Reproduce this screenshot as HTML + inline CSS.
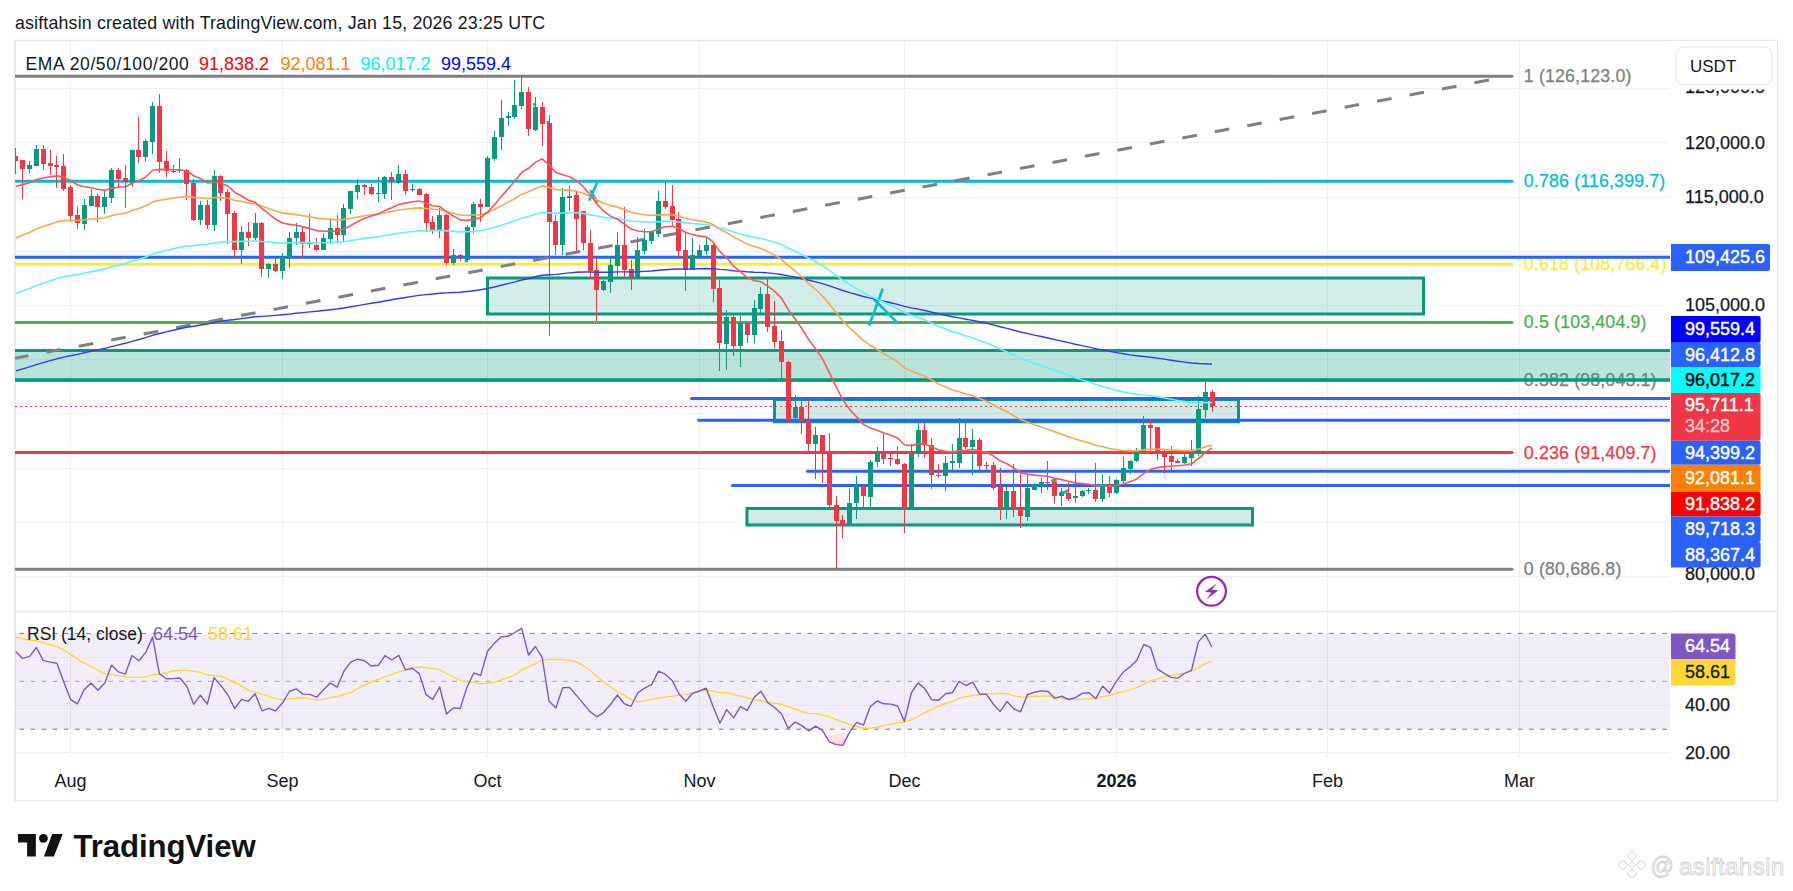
<!DOCTYPE html><html><head><meta charset="utf-8"><style>
html,body{margin:0;padding:0;background:#fff;width:1793px;height:891px;overflow:hidden}
svg{position:absolute;left:0;top:0}
text{font-family:"Liberation Sans",sans-serif}
</style></head><body>
<svg width="1793" height="891" viewBox="0 0 1793 891">
<defs><clipPath id="pclip"><rect x="15" y="41" width="1655" height="570"/></clipPath><clipPath id="rclip"><rect x="15" y="612" width="1655" height="146"/></clipPath></defs>
<text x="15" y="29" font-size="17.8" letter-spacing="0.17" fill="#131722">asiftahsin created with TradingView.com, Jan 15, 2026 23:25 UTC</text>
<rect x="15" y="40.5" width="1762.5" height="760.3" fill="#fff" stroke="#e6e6e6" stroke-width="1.5"/>
<line x1="70.5" y1="41" x2="70.5" y2="758" stroke="#efefef" stroke-width="1"/>
<line x1="282.5" y1="41" x2="282.5" y2="758" stroke="#efefef" stroke-width="1"/>
<line x1="487.5" y1="41" x2="487.5" y2="758" stroke="#efefef" stroke-width="1"/>
<line x1="699.5" y1="41" x2="699.5" y2="758" stroke="#efefef" stroke-width="1"/>
<line x1="904.5" y1="41" x2="904.5" y2="758" stroke="#efefef" stroke-width="1"/>
<line x1="1116.5" y1="41" x2="1116.5" y2="758" stroke="#efefef" stroke-width="1"/>
<line x1="1327.5" y1="41" x2="1327.5" y2="758" stroke="#efefef" stroke-width="1"/>
<line x1="1519.5" y1="41" x2="1519.5" y2="758" stroke="#efefef" stroke-width="1"/>
<line x1="15" y1="88.5" x2="1670" y2="88.5" stroke="#efefef" stroke-width="1"/>
<line x1="15" y1="142.5" x2="1670" y2="142.5" stroke="#efefef" stroke-width="1"/>
<line x1="15" y1="197.5" x2="1670" y2="197.5" stroke="#efefef" stroke-width="1"/>
<line x1="15" y1="251.5" x2="1670" y2="251.5" stroke="#efefef" stroke-width="1"/>
<line x1="15" y1="305.5" x2="1670" y2="305.5" stroke="#efefef" stroke-width="1"/>
<line x1="15" y1="359.5" x2="1670" y2="359.5" stroke="#efefef" stroke-width="1"/>
<line x1="15" y1="413.5" x2="1670" y2="413.5" stroke="#efefef" stroke-width="1"/>
<line x1="15" y1="468.5" x2="1670" y2="468.5" stroke="#efefef" stroke-width="1"/>
<line x1="15" y1="522.5" x2="1670" y2="522.5" stroke="#efefef" stroke-width="1"/>
<line x1="15" y1="576.5" x2="1670" y2="576.5" stroke="#efefef" stroke-width="1"/>
<line x1="15" y1="611.5" x2="1778" y2="611.5" stroke="#e6e6e6" stroke-width="1.5"/>
<g clip-path="url(#pclip)">
<line x1="10" y1="76.3" x2="1512" y2="76.3" stroke="#808080" stroke-width="3" stroke-linecap="round"/>
<line x1="10" y1="181.2" x2="1512" y2="181.2" stroke="#00bcd4" stroke-width="3" stroke-linecap="round"/>
<line x1="10" y1="264.2" x2="1512" y2="264.2" stroke="#ffeb3b" stroke-width="3" stroke-linecap="round"/>
<line x1="10" y1="322.4" x2="1512" y2="322.4" stroke="#4caf50" stroke-width="3" stroke-linecap="round"/>
<line x1="10" y1="380.3" x2="1512" y2="380.3" stroke="#808080" stroke-width="3" stroke-linecap="round"/>
<line x1="10" y1="452.5" x2="1512" y2="452.5" stroke="#f23645" stroke-width="3" stroke-linecap="round"/>
<line x1="10" y1="569.2" x2="1512" y2="569.2" stroke="#808080" stroke-width="3" stroke-linecap="round"/>
<text x="1523.8" y="82.3" font-size="17.8" letter-spacing="0.15" fill="#808080" stroke="#808080" stroke-width="0.25">1 (126,123.0)</text>
<text x="1523.8" y="187.2" font-size="17.8" letter-spacing="0.15" fill="#00bcd4" stroke="#00bcd4" stroke-width="0.25">0.786 (116,399.7)</text>
<text x="1523.8" y="270.2" font-size="17.8" letter-spacing="0.15" fill="#ffeb3b" stroke="#ffeb3b" stroke-width="0.25">0.618 (108,766.4)</text>
<text x="1523.8" y="328.4" font-size="17.8" letter-spacing="0.15" fill="#4caf50" stroke="#4caf50" stroke-width="0.25">0.5 (103,404.9)</text>
<text x="1523.8" y="386.3" font-size="17.8" letter-spacing="0.15" fill="#808080" stroke="#808080" stroke-width="0.25">0.382 (98,043.1)</text>
<text x="1523.8" y="458.5" font-size="17.8" letter-spacing="0.15" fill="#f23645" stroke="#f23645" stroke-width="0.25">0.236 (91,409.7)</text>
<text x="1523.8" y="575.2" font-size="17.8" letter-spacing="0.15" fill="#808080" stroke="#808080" stroke-width="0.25">0 (80,686.8)</text>
<rect x="10" y="350.5" width="1665" height="29.5" fill="#089981" fill-opacity="0.28" stroke="#089981" stroke-width="3"/>
<rect x="487.5" y="278" width="936" height="36" fill="#089981" fill-opacity="0.175" stroke="#089981" stroke-width="3"/>
<rect x="774.5" y="399.5" width="464" height="22.3" fill="#089981" fill-opacity="0.19" stroke="#089981" stroke-width="3"/>
<rect x="747" y="508.5" width="505.5" height="16.5" fill="#089981" fill-opacity="0.19" stroke="#089981" stroke-width="3"/>
<line x1="10" y1="350.5" x2="1675" y2="350.5" stroke="#089981" stroke-width="3"/>
<line x1="10" y1="380" x2="1675" y2="380" stroke="#089981" stroke-width="3"/>
<line x1="10" y1="257.3" x2="1680" y2="257.3" stroke="#2962ff" stroke-width="3" stroke-linecap="round"/>
<line x1="691.5" y1="398.4" x2="1680" y2="398.4" stroke="#2962ff" stroke-width="3" stroke-linecap="round"/>
<line x1="698.5" y1="420.3" x2="1680" y2="420.3" stroke="#2962ff" stroke-width="3" stroke-linecap="round"/>
<line x1="807.5" y1="471.3" x2="1680" y2="471.3" stroke="#2962ff" stroke-width="3" stroke-linecap="round"/>
<line x1="732.5" y1="485.6" x2="1680" y2="485.6" stroke="#2962ff" stroke-width="3" stroke-linecap="round"/>
<line x1="15" y1="406.5" x2="1670" y2="406.5" stroke="#f23645" stroke-width="1" stroke-dasharray="2,3"/>
<line x1="13.85" y1="358.4" x2="1500" y2="78.0" stroke="#808080" stroke-width="3" stroke-dasharray="14.77,18.26"/>
<g stroke="#00bcd4" stroke-width="2.6" stroke-linecap="round" fill="none"><line x1="882.4" y1="289.7" x2="869.5" y2="324.6"/><line x1="874.6" y1="299.9" x2="897" y2="322.3"/><line x1="596.7" y1="183.5" x2="589.6" y2="199.7"/><line x1="590.8" y1="191" x2="597" y2="202"/><path d="M1052.5,480.8 L1055.5,480.3" stroke-width="3"/><path d="M1060.5,493 L1064,492.5 L1067.5,490.8" stroke-width="3"/></g>
<g fill="#00bcd4"><circle cx="534.6" cy="104.5" r="1.8"/><circle cx="548.2" cy="122.3" r="1.8"/><circle cx="466.2" cy="260.8" r="1.8"/></g>
</g>
<g clip-path="url(#pclip)" shape-rendering="crispEdges">
<rect x="15" y="147.9" width="1" height="25.6" fill="#f23645"/>
<rect x="13" y="156.2" width="5" height="4.5" fill="#f23645"/>
<rect x="22" y="159.6" width="1" height="39.3" fill="#f23645"/>
<rect x="20" y="160.0" width="5" height="8.5" fill="#f23645"/>
<rect x="29" y="161.4" width="1" height="11.2" fill="#089981"/>
<rect x="27" y="165.2" width="5" height="3.4" fill="#089981"/>
<rect x="36" y="145.0" width="1" height="20.7" fill="#089981"/>
<rect x="34" y="149.0" width="5" height="16.6" fill="#089981"/>
<rect x="43" y="145.0" width="1" height="24.7" fill="#f23645"/>
<rect x="41" y="149.0" width="5" height="14.6" fill="#f23645"/>
<rect x="50" y="150.2" width="1" height="24.7" fill="#f23645"/>
<rect x="48" y="163.0" width="5" height="2.7" fill="#f23645"/>
<rect x="56" y="156.2" width="1" height="31.4" fill="#f23645"/>
<rect x="54" y="164.7" width="5" height="2.0" fill="#f23645"/>
<rect x="63" y="154.0" width="1" height="36.6" fill="#f23645"/>
<rect x="61" y="165.9" width="5" height="22.9" fill="#f23645"/>
<rect x="70" y="185.4" width="1" height="34.8" fill="#f23645"/>
<rect x="68" y="187.0" width="5" height="28.7" fill="#f23645"/>
<rect x="77" y="207.2" width="1" height="21.5" fill="#f23645"/>
<rect x="75" y="215.3" width="5" height="7.6" fill="#f23645"/>
<rect x="84" y="199.3" width="1" height="30.3" fill="#089981"/>
<rect x="82" y="205.2" width="5" height="18.9" fill="#089981"/>
<rect x="91" y="189.2" width="1" height="16.4" fill="#089981"/>
<rect x="89" y="195.9" width="5" height="9.7" fill="#089981"/>
<rect x="97" y="194.4" width="1" height="27.4" fill="#f23645"/>
<rect x="95" y="195.9" width="5" height="10.8" fill="#f23645"/>
<rect x="104" y="189.9" width="1" height="23.6" fill="#089981"/>
<rect x="102" y="197.1" width="5" height="9.7" fill="#089981"/>
<rect x="111" y="168.1" width="1" height="35.2" fill="#089981"/>
<rect x="109" y="169.7" width="5" height="28.1" fill="#089981"/>
<rect x="118" y="168.1" width="1" height="18.4" fill="#f23645"/>
<rect x="116" y="169.7" width="5" height="9.0" fill="#f23645"/>
<rect x="125" y="165.2" width="1" height="43.1" fill="#f23645"/>
<rect x="123" y="178.2" width="5" height="3.4" fill="#f23645"/>
<rect x="132" y="150.2" width="1" height="36.8" fill="#089981"/>
<rect x="130" y="150.2" width="5" height="32.3" fill="#089981"/>
<rect x="138" y="116.9" width="1" height="46.0" fill="#f23645"/>
<rect x="136" y="150.2" width="5" height="6.5" fill="#f23645"/>
<rect x="145" y="138.9" width="1" height="22.9" fill="#089981"/>
<rect x="143" y="141.2" width="5" height="15.5" fill="#089981"/>
<rect x="152" y="101.7" width="1" height="52.3" fill="#089981"/>
<rect x="150" y="106.2" width="5" height="35.5" fill="#089981"/>
<rect x="159" y="94.0" width="1" height="78.6" fill="#f23645"/>
<rect x="157" y="106.2" width="5" height="55.7" fill="#f23645"/>
<rect x="166" y="151.1" width="1" height="25.4" fill="#f23645"/>
<rect x="164" y="161.4" width="5" height="9.9" fill="#f23645"/>
<rect x="173" y="165.2" width="1" height="7.9" fill="#089981"/>
<rect x="171" y="170.8" width="5" height="1.1" fill="#089981"/>
<rect x="179" y="158.0" width="1" height="14.6" fill="#089981"/>
<rect x="177" y="169.7" width="5" height="1.1" fill="#089981"/>
<rect x="186" y="168.6" width="1" height="31.4" fill="#f23645"/>
<rect x="184" y="169.7" width="5" height="13.9" fill="#f23645"/>
<rect x="193" y="178.7" width="1" height="42.0" fill="#f23645"/>
<rect x="191" y="183.2" width="5" height="36.6" fill="#f23645"/>
<rect x="200" y="201.1" width="1" height="23.6" fill="#089981"/>
<rect x="198" y="205.2" width="5" height="14.6" fill="#089981"/>
<rect x="207" y="200.0" width="1" height="28.7" fill="#f23645"/>
<rect x="205" y="205.2" width="5" height="19.5" fill="#f23645"/>
<rect x="214" y="170.2" width="1" height="61.1" fill="#089981"/>
<rect x="212" y="176.2" width="5" height="48.7" fill="#089981"/>
<rect x="220" y="175.1" width="1" height="25.8" fill="#f23645"/>
<rect x="218" y="176.2" width="5" height="16.4" fill="#f23645"/>
<rect x="227" y="189.0" width="1" height="54.5" fill="#f23645"/>
<rect x="225" y="191.9" width="5" height="21.8" fill="#f23645"/>
<rect x="234" y="211.0" width="1" height="47.1" fill="#f23645"/>
<rect x="232" y="212.8" width="5" height="36.8" fill="#f23645"/>
<rect x="241" y="225.6" width="1" height="38.8" fill="#089981"/>
<rect x="239" y="232.3" width="5" height="17.3" fill="#089981"/>
<rect x="248" y="222.2" width="1" height="24.2" fill="#f23645"/>
<rect x="246" y="232.3" width="5" height="5.2" fill="#f23645"/>
<rect x="255" y="213.3" width="1" height="26.9" fill="#089981"/>
<rect x="253" y="223.4" width="5" height="14.1" fill="#089981"/>
<rect x="261" y="222.2" width="1" height="55.0" fill="#f23645"/>
<rect x="259" y="223.4" width="5" height="45.6" fill="#f23645"/>
<rect x="268" y="263.3" width="1" height="15.0" fill="#089981"/>
<rect x="266" y="264.4" width="5" height="4.5" fill="#089981"/>
<rect x="275" y="257.0" width="1" height="14.6" fill="#f23645"/>
<rect x="273" y="264.4" width="5" height="6.7" fill="#f23645"/>
<rect x="282" y="252.5" width="1" height="26.9" fill="#089981"/>
<rect x="280" y="258.1" width="5" height="13.0" fill="#089981"/>
<rect x="289" y="232.3" width="1" height="35.2" fill="#089981"/>
<rect x="287" y="237.5" width="5" height="21.8" fill="#089981"/>
<rect x="296" y="223.4" width="1" height="21.3" fill="#089981"/>
<rect x="294" y="232.3" width="5" height="5.2" fill="#089981"/>
<rect x="302" y="226.7" width="1" height="31.4" fill="#f23645"/>
<rect x="300" y="232.3" width="5" height="11.2" fill="#f23645"/>
<rect x="309" y="214.4" width="1" height="33.7" fill="#f23645"/>
<rect x="307" y="242.9" width="5" height="1.3" fill="#f23645"/>
<rect x="316" y="237.5" width="1" height="13.5" fill="#f23645"/>
<rect x="314" y="244.7" width="5" height="4.9" fill="#f23645"/>
<rect x="323" y="233.0" width="1" height="16.6" fill="#089981"/>
<rect x="321" y="238.4" width="5" height="11.2" fill="#089981"/>
<rect x="330" y="219.5" width="1" height="24.0" fill="#089981"/>
<rect x="328" y="227.8" width="5" height="11.2" fill="#089981"/>
<rect x="337" y="215.1" width="1" height="26.9" fill="#f23645"/>
<rect x="335" y="227.8" width="5" height="6.7" fill="#f23645"/>
<rect x="343" y="204.3" width="1" height="36.4" fill="#089981"/>
<rect x="341" y="208.1" width="5" height="26.5" fill="#089981"/>
<rect x="350" y="190.8" width="1" height="22.9" fill="#089981"/>
<rect x="348" y="191.3" width="5" height="17.5" fill="#089981"/>
<rect x="357" y="179.1" width="1" height="19.5" fill="#089981"/>
<rect x="355" y="185.2" width="5" height="6.7" fill="#089981"/>
<rect x="364" y="183.6" width="1" height="11.2" fill="#f23645"/>
<rect x="362" y="185.2" width="5" height="2.2" fill="#f23645"/>
<rect x="371" y="184.1" width="1" height="10.8" fill="#f23645"/>
<rect x="369" y="187.4" width="5" height="6.7" fill="#f23645"/>
<rect x="378" y="177.3" width="1" height="25.1" fill="#089981"/>
<rect x="376" y="193.1" width="5" height="1.0" fill="#089981"/>
<rect x="384" y="175.5" width="1" height="23.1" fill="#089981"/>
<rect x="382" y="176.9" width="5" height="16.6" fill="#089981"/>
<rect x="391" y="171.7" width="1" height="28.1" fill="#f23645"/>
<rect x="389" y="176.9" width="5" height="4.9" fill="#f23645"/>
<rect x="398" y="165.0" width="1" height="19.1" fill="#089981"/>
<rect x="396" y="174.0" width="5" height="9.0" fill="#089981"/>
<rect x="405" y="169.9" width="1" height="24.7" fill="#f23645"/>
<rect x="403" y="173.7" width="5" height="17.1" fill="#f23645"/>
<rect x="412" y="184.0" width="1" height="8.3" fill="#089981"/>
<rect x="410" y="188.5" width="5" height="1.0" fill="#089981"/>
<rect x="419" y="187.8" width="1" height="6.7" fill="#f23645"/>
<rect x="417" y="189.0" width="5" height="5.6" fill="#f23645"/>
<rect x="426" y="193.0" width="1" height="39.1" fill="#f23645"/>
<rect x="424" y="193.5" width="5" height="29.2" fill="#f23645"/>
<rect x="432" y="215.5" width="1" height="18.9" fill="#f23645"/>
<rect x="430" y="222.2" width="5" height="7.6" fill="#f23645"/>
<rect x="439" y="208.0" width="1" height="30.3" fill="#089981"/>
<rect x="437" y="214.8" width="5" height="15.0" fill="#089981"/>
<rect x="446" y="213.7" width="1" height="51.6" fill="#f23645"/>
<rect x="444" y="214.8" width="5" height="48.3" fill="#f23645"/>
<rect x="453" y="248.5" width="1" height="16.8" fill="#089981"/>
<rect x="451" y="255.2" width="5" height="7.9" fill="#089981"/>
<rect x="460" y="253.6" width="1" height="7.2" fill="#f23645"/>
<rect x="458" y="255.2" width="5" height="1.1" fill="#f23645"/>
<rect x="467" y="224.9" width="1" height="37.0" fill="#089981"/>
<rect x="465" y="227.1" width="5" height="33.2" fill="#089981"/>
<rect x="473" y="202.4" width="1" height="31.0" fill="#089981"/>
<rect x="471" y="203.6" width="5" height="23.6" fill="#089981"/>
<rect x="480" y="199.1" width="1" height="22.4" fill="#f23645"/>
<rect x="478" y="204.2" width="5" height="3.1" fill="#f23645"/>
<rect x="487" y="156.4" width="1" height="51.0" fill="#089981"/>
<rect x="485" y="157.5" width="5" height="49.8" fill="#089981"/>
<rect x="494" y="130.6" width="1" height="30.3" fill="#089981"/>
<rect x="492" y="136.9" width="5" height="21.8" fill="#089981"/>
<rect x="501" y="99.6" width="1" height="50.1" fill="#089981"/>
<rect x="499" y="117.6" width="5" height="19.8" fill="#089981"/>
<rect x="508" y="112.2" width="1" height="13.5" fill="#089981"/>
<rect x="506" y="116.0" width="5" height="2.2" fill="#089981"/>
<rect x="514" y="80.1" width="1" height="38.8" fill="#089981"/>
<rect x="512" y="104.8" width="5" height="11.9" fill="#089981"/>
<rect x="521" y="74.9" width="1" height="33.7" fill="#089981"/>
<rect x="519" y="92.0" width="5" height="13.5" fill="#089981"/>
<rect x="528" y="86.8" width="1" height="48.7" fill="#f23645"/>
<rect x="526" y="92.0" width="5" height="36.8" fill="#f23645"/>
<rect x="535" y="96.9" width="1" height="33.7" fill="#089981"/>
<rect x="533" y="106.6" width="5" height="22.9" fill="#089981"/>
<rect x="542" y="101.9" width="1" height="44.0" fill="#f23645"/>
<rect x="540" y="106.6" width="5" height="17.7" fill="#f23645"/>
<rect x="549" y="114.9" width="1" height="221.0" fill="#f23645"/>
<rect x="547" y="123.4" width="5" height="98.8" fill="#f23645"/>
<rect x="555" y="214.8" width="1" height="39.7" fill="#f23645"/>
<rect x="553" y="220.8" width="5" height="23.8" fill="#f23645"/>
<rect x="562" y="187.8" width="1" height="66.7" fill="#089981"/>
<rect x="560" y="196.8" width="5" height="47.8" fill="#089981"/>
<rect x="569" y="186.3" width="1" height="24.7" fill="#089981"/>
<rect x="567" y="195.7" width="5" height="2.2" fill="#089981"/>
<rect x="576" y="191.7" width="1" height="59.7" fill="#f23645"/>
<rect x="574" y="195.3" width="5" height="23.3" fill="#f23645"/>
<rect x="583" y="211.0" width="1" height="38.6" fill="#f23645"/>
<rect x="581" y="211.4" width="5" height="31.9" fill="#f23645"/>
<rect x="590" y="229.6" width="1" height="49.4" fill="#f23645"/>
<rect x="588" y="243.1" width="5" height="28.1" fill="#f23645"/>
<rect x="596" y="258.8" width="1" height="62.4" fill="#f23645"/>
<rect x="594" y="270.0" width="5" height="19.8" fill="#f23645"/>
<rect x="603" y="280.1" width="1" height="11.2" fill="#089981"/>
<rect x="601" y="280.8" width="5" height="9.4" fill="#089981"/>
<rect x="610" y="257.6" width="1" height="35.2" fill="#089981"/>
<rect x="608" y="265.1" width="5" height="16.6" fill="#089981"/>
<rect x="617" y="232.3" width="1" height="43.3" fill="#089981"/>
<rect x="615" y="244.8" width="5" height="21.1" fill="#089981"/>
<rect x="624" y="207.1" width="1" height="70.7" fill="#f23645"/>
<rect x="622" y="244.8" width="5" height="25.1" fill="#f23645"/>
<rect x="631" y="259.9" width="1" height="29.9" fill="#f23645"/>
<rect x="629" y="268.9" width="5" height="9.0" fill="#f23645"/>
<rect x="637" y="237.4" width="1" height="39.7" fill="#089981"/>
<rect x="635" y="249.8" width="5" height="27.4" fill="#089981"/>
<rect x="644" y="228.5" width="1" height="25.4" fill="#089981"/>
<rect x="642" y="239.7" width="5" height="11.2" fill="#089981"/>
<rect x="651" y="230.7" width="1" height="13.5" fill="#089981"/>
<rect x="649" y="232.3" width="5" height="8.5" fill="#089981"/>
<rect x="658" y="191.0" width="1" height="45.8" fill="#089981"/>
<rect x="656" y="200.9" width="5" height="33.2" fill="#089981"/>
<rect x="665" y="181.3" width="1" height="27.6" fill="#f23645"/>
<rect x="663" y="200.9" width="5" height="6.3" fill="#f23645"/>
<rect x="672" y="185.1" width="1" height="41.8" fill="#f23645"/>
<rect x="670" y="206.0" width="5" height="14.1" fill="#f23645"/>
<rect x="678" y="211.6" width="1" height="47.1" fill="#f23645"/>
<rect x="676" y="218.8" width="5" height="32.1" fill="#f23645"/>
<rect x="685" y="233.0" width="1" height="57.7" fill="#f23645"/>
<rect x="683" y="249.8" width="5" height="20.2" fill="#f23645"/>
<rect x="692" y="238.1" width="1" height="31.9" fill="#089981"/>
<rect x="690" y="254.7" width="5" height="15.3" fill="#089981"/>
<rect x="699" y="244.8" width="1" height="12.1" fill="#089981"/>
<rect x="697" y="250.2" width="5" height="5.8" fill="#089981"/>
<rect x="706" y="237.4" width="1" height="18.0" fill="#089981"/>
<rect x="704" y="244.8" width="5" height="6.1" fill="#089981"/>
<rect x="713" y="243.1" width="1" height="58.8" fill="#f23645"/>
<rect x="711" y="244.8" width="5" height="44.2" fill="#f23645"/>
<rect x="719" y="280.1" width="1" height="90.8" fill="#f23645"/>
<rect x="717" y="287.9" width="5" height="55.5" fill="#f23645"/>
<rect x="726" y="309.9" width="1" height="59.9" fill="#089981"/>
<rect x="724" y="317.0" width="5" height="26.7" fill="#089981"/>
<rect x="733" y="314.4" width="1" height="41.3" fill="#f23645"/>
<rect x="731" y="317.0" width="5" height="28.8" fill="#f23645"/>
<rect x="740" y="315.9" width="1" height="51.1" fill="#089981"/>
<rect x="738" y="323.0" width="5" height="22.8" fill="#089981"/>
<rect x="747" y="321.6" width="1" height="21.0" fill="#f23645"/>
<rect x="745" y="323.0" width="5" height="11.8" fill="#f23645"/>
<rect x="754" y="300.2" width="1" height="43.2" fill="#089981"/>
<rect x="752" y="308.1" width="5" height="26.7" fill="#089981"/>
<rect x="760" y="286.8" width="1" height="25.8" fill="#089981"/>
<rect x="758" y="294.2" width="5" height="14.4" fill="#089981"/>
<rect x="767" y="277.8" width="1" height="53.9" fill="#f23645"/>
<rect x="765" y="294.2" width="5" height="32.3" fill="#f23645"/>
<rect x="774" y="301.0" width="1" height="47.1" fill="#f23645"/>
<rect x="772" y="326.1" width="5" height="15.7" fill="#f23645"/>
<rect x="781" y="330.0" width="1" height="50.5" fill="#f23645"/>
<rect x="779" y="341.2" width="5" height="21.0" fill="#f23645"/>
<rect x="788" y="360.9" width="1" height="61.7" fill="#f23645"/>
<rect x="786" y="362.3" width="5" height="57.5" fill="#f23645"/>
<rect x="795" y="394.5" width="1" height="25.2" fill="#089981"/>
<rect x="793" y="407.1" width="5" height="11.2" fill="#089981"/>
<rect x="801" y="396.8" width="1" height="37.6" fill="#f23645"/>
<rect x="799" y="407.1" width="5" height="14.0" fill="#f23645"/>
<rect x="808" y="400.1" width="1" height="50.5" fill="#f23645"/>
<rect x="806" y="421.2" width="5" height="22.4" fill="#f23645"/>
<rect x="815" y="426.8" width="1" height="51.9" fill="#089981"/>
<rect x="813" y="435.2" width="5" height="8.4" fill="#089981"/>
<rect x="822" y="435.2" width="1" height="47.7" fill="#f23645"/>
<rect x="820" y="435.2" width="5" height="16.8" fill="#f23645"/>
<rect x="829" y="433.2" width="1" height="74.9" fill="#f23645"/>
<rect x="827" y="452.0" width="5" height="53.3" fill="#f23645"/>
<rect x="836" y="495.5" width="1" height="72.9" fill="#f23645"/>
<rect x="834" y="504.5" width="5" height="16.3" fill="#f23645"/>
<rect x="842" y="515.1" width="1" height="22.4" fill="#f23645"/>
<rect x="840" y="520.2" width="5" height="4.8" fill="#f23645"/>
<rect x="849" y="488.5" width="1" height="35.1" fill="#089981"/>
<rect x="847" y="502.5" width="5" height="21.0" fill="#089981"/>
<rect x="856" y="475.9" width="1" height="42.6" fill="#089981"/>
<rect x="854" y="485.7" width="5" height="16.8" fill="#089981"/>
<rect x="863" y="483.7" width="1" height="25.8" fill="#f23645"/>
<rect x="861" y="485.7" width="5" height="10.7" fill="#f23645"/>
<rect x="870" y="460.4" width="1" height="46.3" fill="#089981"/>
<rect x="868" y="461.8" width="5" height="35.1" fill="#089981"/>
<rect x="877" y="447.3" width="1" height="19.6" fill="#089981"/>
<rect x="875" y="450.6" width="5" height="11.2" fill="#089981"/>
<rect x="883" y="433.8" width="1" height="30.3" fill="#f23645"/>
<rect x="881" y="450.6" width="5" height="7.9" fill="#f23645"/>
<rect x="890" y="453.4" width="1" height="12.6" fill="#f23645"/>
<rect x="888" y="457.6" width="5" height="1.4" fill="#f23645"/>
<rect x="897" y="446.4" width="1" height="18.2" fill="#f23645"/>
<rect x="895" y="459.0" width="5" height="5.0" fill="#f23645"/>
<rect x="904" y="463.2" width="1" height="70.1" fill="#f23645"/>
<rect x="902" y="464.1" width="5" height="44.0" fill="#f23645"/>
<rect x="911" y="443.6" width="1" height="64.5" fill="#089981"/>
<rect x="909" y="453.4" width="5" height="54.7" fill="#089981"/>
<rect x="918" y="422.6" width="1" height="34.2" fill="#089981"/>
<rect x="916" y="429.6" width="5" height="23.8" fill="#089981"/>
<rect x="924" y="422.6" width="1" height="35.1" fill="#f23645"/>
<rect x="922" y="429.6" width="5" height="15.4" fill="#f23645"/>
<rect x="931" y="438.0" width="1" height="50.5" fill="#f23645"/>
<rect x="929" y="445.0" width="5" height="30.3" fill="#f23645"/>
<rect x="938" y="464.1" width="1" height="14.0" fill="#f23645"/>
<rect x="936" y="475.3" width="5" height="1.1" fill="#f23645"/>
<rect x="945" y="455.7" width="1" height="35.6" fill="#089981"/>
<rect x="943" y="463.2" width="5" height="12.6" fill="#089981"/>
<rect x="952" y="443.6" width="1" height="26.6" fill="#089981"/>
<rect x="950" y="461.3" width="5" height="1.7" fill="#089981"/>
<rect x="959" y="418.4" width="1" height="49.1" fill="#089981"/>
<rect x="957" y="438.0" width="5" height="25.2" fill="#089981"/>
<rect x="965" y="419.3" width="1" height="29.2" fill="#f23645"/>
<rect x="963" y="437.9" width="5" height="9.0" fill="#f23645"/>
<rect x="972" y="428.9" width="1" height="46.5" fill="#089981"/>
<rect x="970" y="440.2" width="5" height="6.7" fill="#089981"/>
<rect x="979" y="438.4" width="1" height="34.1" fill="#f23645"/>
<rect x="977" y="440.2" width="5" height="25.6" fill="#f23645"/>
<rect x="986" y="461.9" width="1" height="7.9" fill="#f23645"/>
<rect x="984" y="465.3" width="5" height="1.0" fill="#f23645"/>
<rect x="993" y="461.9" width="1" height="28.1" fill="#f23645"/>
<rect x="991" y="464.8" width="5" height="23.3" fill="#f23645"/>
<rect x="1000" y="467.5" width="1" height="52.1" fill="#f23645"/>
<rect x="998" y="487.3" width="5" height="20.2" fill="#f23645"/>
<rect x="1006" y="487.3" width="1" height="31.4" fill="#089981"/>
<rect x="1004" y="491.1" width="5" height="16.4" fill="#089981"/>
<rect x="1013" y="464.2" width="1" height="52.7" fill="#f23645"/>
<rect x="1011" y="491.1" width="5" height="18.0" fill="#f23645"/>
<rect x="1020" y="470.9" width="1" height="56.8" fill="#f23645"/>
<rect x="1018" y="507.9" width="5" height="8.5" fill="#f23645"/>
<rect x="1027" y="474.3" width="1" height="46.7" fill="#089981"/>
<rect x="1025" y="488.2" width="5" height="28.3" fill="#089981"/>
<rect x="1034" y="482.8" width="1" height="7.6" fill="#089981"/>
<rect x="1032" y="484.4" width="5" height="5.2" fill="#089981"/>
<rect x="1041" y="478.3" width="1" height="15.0" fill="#089981"/>
<rect x="1039" y="482.1" width="5" height="3.4" fill="#089981"/>
<rect x="1047" y="461.3" width="1" height="28.7" fill="#f23645"/>
<rect x="1045" y="482.1" width="5" height="1.1" fill="#f23645"/>
<rect x="1054" y="478.8" width="1" height="24.7" fill="#f23645"/>
<rect x="1052" y="482.1" width="5" height="13.5" fill="#f23645"/>
<rect x="1061" y="488.2" width="1" height="17.5" fill="#089981"/>
<rect x="1059" y="492.7" width="5" height="2.9" fill="#089981"/>
<rect x="1068" y="483.3" width="1" height="17.5" fill="#f23645"/>
<rect x="1066" y="493.4" width="5" height="5.2" fill="#f23645"/>
<rect x="1075" y="472.0" width="1" height="31.4" fill="#089981"/>
<rect x="1073" y="496.3" width="5" height="1.6" fill="#089981"/>
<rect x="1082" y="489.5" width="1" height="7.6" fill="#089981"/>
<rect x="1080" y="491.1" width="5" height="5.2" fill="#089981"/>
<rect x="1088" y="487.7" width="1" height="6.7" fill="#089981"/>
<rect x="1086" y="490.4" width="5" height="1.0" fill="#089981"/>
<rect x="1095" y="463.1" width="1" height="38.6" fill="#f23645"/>
<rect x="1093" y="490.0" width="5" height="8.5" fill="#f23645"/>
<rect x="1102" y="474.3" width="1" height="27.4" fill="#089981"/>
<rect x="1100" y="484.4" width="5" height="14.1" fill="#089981"/>
<rect x="1109" y="476.1" width="1" height="20.7" fill="#f23645"/>
<rect x="1107" y="484.4" width="5" height="9.0" fill="#f23645"/>
<rect x="1116" y="478.8" width="1" height="15.3" fill="#089981"/>
<rect x="1114" y="479.9" width="5" height="13.5" fill="#089981"/>
<rect x="1123" y="457.4" width="1" height="26.3" fill="#089981"/>
<rect x="1121" y="468.0" width="5" height="13.0" fill="#089981"/>
<rect x="1130" y="459.7" width="1" height="14.6" fill="#089981"/>
<rect x="1128" y="460.8" width="5" height="7.9" fill="#089981"/>
<rect x="1136" y="447.8" width="1" height="14.1" fill="#089981"/>
<rect x="1134" y="451.4" width="5" height="9.9" fill="#089981"/>
<rect x="1143" y="415.9" width="1" height="35.9" fill="#089981"/>
<rect x="1141" y="424.9" width="5" height="26.9" fill="#089981"/>
<rect x="1150" y="419.2" width="1" height="32.3" fill="#f23645"/>
<rect x="1148" y="424.9" width="5" height="2.7" fill="#f23645"/>
<rect x="1157" y="427.2" width="1" height="32.3" fill="#f23645"/>
<rect x="1155" y="427.2" width="5" height="24.2" fill="#f23645"/>
<rect x="1164" y="449.5" width="1" height="24.9" fill="#f23645"/>
<rect x="1162" y="451.5" width="5" height="5.4" fill="#f23645"/>
<rect x="1171" y="446.1" width="1" height="24.6" fill="#f23645"/>
<rect x="1169" y="456.2" width="5" height="5.7" fill="#f23645"/>
<rect x="1177" y="458.9" width="1" height="3.8" fill="#f23645"/>
<rect x="1175" y="461.3" width="5" height="1.3" fill="#f23645"/>
<rect x="1184" y="454.2" width="1" height="10.1" fill="#089981"/>
<rect x="1182" y="456.9" width="5" height="6.1" fill="#089981"/>
<rect x="1191" y="440.0" width="1" height="25.6" fill="#089981"/>
<rect x="1189" y="453.2" width="5" height="4.6" fill="#089981"/>
<rect x="1198" y="396.3" width="1" height="59.3" fill="#089981"/>
<rect x="1196" y="409.1" width="5" height="45.1" fill="#089981"/>
<rect x="1205" y="381.9" width="1" height="36.0" fill="#089981"/>
<rect x="1203" y="392.2" width="5" height="17.5" fill="#089981"/>
<rect x="1212" y="390.2" width="1" height="21.8" fill="#f23645"/>
<rect x="1210" y="392.2" width="5" height="13.8" fill="#f23645"/>
</g>
<g clip-path="url(#pclip)" fill="none" stroke-linejoin="round">
<polyline points="15.9,370.9 22.7,368.9 29.6,366.8 36.4,364.7 43.2,362.7 50.1,360.7 56.9,358.8 63.7,357.1 70.6,355.7 77.4,354.4 84.2,352.9 91.1,351.3 97.9,349.9 104.8,348.4 111.6,346.6 118.4,344.9 125.3,343.3 132.1,341.4 138.9,339.5 145.8,337.6 152.6,335.3 159.4,333.5 166.3,331.9 173.1,330.3 179.9,328.7 186.8,327.3 193.6,326.2 200.4,325.0 207.3,324.0 214.1,322.5 221.0,321.2 227.8,320.2 234.6,319.5 241.5,318.6 248.3,317.8 255.1,316.8 262.0,316.4 268.8,315.9 275.6,315.4 282.5,314.8 289.3,314.1 296.1,313.3 303.0,312.6 309.8,311.9 316.6,311.3 323.5,310.5 330.3,309.7 337.1,309.0 344.0,308.0 350.8,306.8 357.6,305.6 364.5,304.4 371.3,303.3 378.2,302.2 385.0,301.0 391.8,299.8 398.7,298.5 405.5,297.5 412.3,296.4 419.2,295.4 426.0,294.6 432.8,294.0 439.7,293.2 446.5,292.9 453.3,292.5 460.2,292.2 467.0,291.5 473.8,290.7 480.7,289.8 487.5,288.5 494.3,287.0 501.2,285.3 508.0,283.6 514.9,281.9 521.7,280.0 528.5,278.5 535.4,276.7 542.2,275.2 549.0,274.7 555.9,274.4 562.7,273.6 569.5,272.9 576.4,272.3 583.2,272.0 590.0,272.0 596.9,272.2 603.7,272.3 610.5,272.2 617.4,271.9 624.2,271.9 631.0,272.0 637.9,271.8 644.7,271.4 651.6,271.0 658.4,270.3 665.2,269.7 672.1,269.2 678.9,269.0 685.7,269.1 692.6,268.9 699.4,268.7 706.2,268.5 713.1,268.7 719.9,269.4 726.7,269.9 733.6,270.7 740.4,271.2 747.2,271.8 754.1,272.2 760.9,272.4 767.8,272.9 774.6,273.6 781.4,274.5 788.3,275.9 795.1,277.3 801.9,278.7 808.8,280.3 815.6,281.9 822.4,283.6 829.3,285.8 836.1,288.1 842.9,290.5 849.8,292.6 856.6,294.5 863.4,296.5 870.3,298.1 877.1,299.7 883.9,301.2 890.8,302.8 897.6,304.4 904.4,306.4 911.3,307.9 918.1,309.1 925.0,310.5 931.8,312.1 938.6,313.7 945.5,315.2 952.3,316.7 959.1,317.9 966.0,319.2 972.8,320.4 979.6,321.8 986.5,323.3 993.3,324.9 1000.1,326.7 1007.0,328.4 1013.8,330.2 1020.6,332.0 1027.5,333.6 1034.3,335.1 1041.2,336.5 1048.0,338.0 1054.8,339.6 1061.7,341.1 1068.5,342.6 1075.3,344.2 1082.2,345.6 1089.0,347.1 1095.8,348.6 1102.7,349.9 1109.5,351.4 1116.3,352.6 1123.2,353.8 1130.0,354.9 1136.8,355.8 1143.7,356.5 1150.5,357.2 1157.3,358.1 1164.2,359.1 1171.0,360.2 1177.9,361.2 1184.7,362.1 1191.5,363.0 1198.4,363.5 1205.2,363.8 1212.0,364.2" stroke="#3838ee" stroke-width="1.4"/>
<polyline points="15.9,293.3 22.7,290.9 29.6,288.4 36.4,285.6 43.2,283.2 50.1,280.9 56.9,278.6 63.7,276.8 70.6,275.6 77.4,274.6 84.2,273.2 91.1,271.7 97.9,270.4 104.8,268.9 111.6,267.0 118.4,265.2 125.3,263.6 132.1,261.3 138.9,259.2 145.8,256.9 152.6,253.9 159.4,252.1 166.3,250.5 173.1,248.9 179.9,247.3 186.8,246.1 193.6,245.6 200.4,244.8 207.3,244.4 214.1,243.0 221.0,242.0 227.8,241.5 234.6,241.6 241.5,241.4 248.3,241.4 255.1,241.0 262.0,241.6 268.8,242.0 275.6,242.6 282.5,242.9 289.3,242.8 296.1,242.6 303.0,242.6 309.8,242.6 316.6,242.8 323.5,242.7 330.3,242.4 337.1,242.2 344.0,241.6 350.8,240.6 357.6,239.5 364.5,238.4 371.3,237.6 378.2,236.7 385.0,235.5 391.8,234.4 398.7,233.2 405.5,232.4 412.3,231.5 419.2,230.8 426.0,230.6 432.8,230.6 439.7,230.3 446.5,230.9 453.3,231.4 460.2,231.9 467.0,231.8 473.8,231.3 480.7,230.8 487.5,229.3 494.3,227.5 501.2,225.3 508.0,223.2 514.9,220.8 521.7,218.3 528.5,216.5 535.4,214.3 542.2,212.5 549.0,212.7 555.9,213.4 562.7,213.0 569.5,212.7 576.4,212.8 583.2,213.4 590.0,214.6 596.9,216.0 603.7,217.3 610.5,218.3 617.4,218.8 624.2,219.8 631.0,221.0 637.9,221.5 644.7,221.9 651.6,222.1 658.4,221.7 665.2,221.4 672.1,221.4 678.9,222.0 685.7,222.9 692.6,223.5 699.4,224.1 706.2,224.5 713.1,225.8 719.9,228.1 726.7,229.8 733.6,232.1 740.4,233.9 747.2,235.9 754.1,237.4 760.9,238.5 767.8,240.2 774.6,242.2 781.4,244.6 788.3,248.1 795.1,251.2 801.9,254.6 808.8,258.3 815.6,261.8 822.4,265.6 829.3,270.4 836.1,275.3 842.9,280.3 849.8,284.7 856.6,288.6 863.4,292.8 870.3,296.1 877.1,299.2 883.9,302.3 890.8,305.4 897.6,308.6 904.4,312.5 911.3,315.3 918.1,317.6 925.0,320.1 931.8,323.2 938.6,326.2 945.5,328.9 952.3,331.5 959.1,333.6 966.0,335.9 972.8,338.0 979.6,340.5 986.5,343.0 993.3,345.8 1000.1,349.0 1007.0,351.9 1013.8,355.0 1020.6,358.2 1027.5,360.7 1034.3,363.2 1041.2,365.5 1048.0,367.9 1054.8,370.4 1061.7,372.8 1068.5,375.3 1075.3,377.7 1082.2,380.0 1089.0,382.1 1095.8,384.5 1102.7,386.4 1109.5,388.5 1116.3,390.4 1123.2,391.9 1130.0,393.3 1136.8,394.4 1143.7,395.0 1150.5,395.7 1157.3,396.8 1164.2,398.0 1171.0,399.2 1177.9,400.5 1184.7,401.6 1191.5,402.6 1198.4,402.7 1205.2,402.5 1212.0,402.6" stroke="#5ff2ff" stroke-width="1.6"/>
<polyline points="15.9,237.9 22.7,235.1 29.6,232.4 36.4,229.1 43.2,226.6 50.1,224.2 56.9,221.9 63.7,220.6 70.6,220.4 77.4,220.5 84.2,219.9 91.1,219.0 97.9,218.5 104.8,217.7 111.6,215.8 118.4,214.3 125.3,213.0 132.1,210.6 138.9,208.5 145.8,205.8 152.6,201.9 159.4,200.3 166.3,199.2 173.1,198.1 179.9,197.0 186.8,196.4 193.6,197.4 200.4,197.7 207.3,198.7 214.1,197.8 221.0,197.6 227.8,198.3 234.6,200.3 241.5,201.5 248.3,202.9 255.1,203.7 262.0,206.3 268.8,208.6 275.6,211.0 282.5,212.9 289.3,213.9 296.1,214.6 303.0,215.7 309.8,216.8 316.6,218.1 323.5,218.9 330.3,219.3 337.1,219.9 344.0,219.4 350.8,218.3 357.6,217.0 364.5,215.8 371.3,215.0 378.2,214.1 385.0,212.7 391.8,211.5 398.7,210.0 405.5,209.2 412.3,208.4 419.2,207.9 426.0,208.5 432.8,209.3 439.7,209.5 446.5,211.6 453.3,213.3 460.2,215.0 467.0,215.5 473.8,215.0 480.7,214.7 487.5,212.5 494.3,209.5 501.2,205.9 508.0,202.4 514.9,198.6 521.7,194.4 528.5,191.8 535.4,188.5 542.2,185.9 549.0,187.4 555.9,189.6 562.7,189.9 569.5,190.1 576.4,191.2 583.2,193.3 590.0,196.3 596.9,200.0 603.7,203.2 610.5,205.6 617.4,207.1 624.2,209.6 631.0,212.3 637.9,213.7 644.7,214.8 651.6,215.4 658.4,214.9 665.2,214.6 672.1,214.8 678.9,216.2 685.7,218.3 692.6,219.7 699.4,220.9 706.2,221.9 713.1,224.5 719.9,229.2 726.7,232.6 733.6,237.1 740.4,240.4 747.2,244.1 754.1,246.6 760.9,248.5 767.8,251.6 774.6,255.1 781.4,259.3 788.3,265.6 795.1,271.1 801.9,277.0 808.8,283.6 815.6,289.5 822.4,295.9 829.3,304.1 836.1,312.6 842.9,320.9 849.8,328.0 856.6,334.2 863.4,340.6 870.3,345.3 877.1,349.5 883.9,353.7 890.8,357.9 897.6,362.0 904.4,367.8 911.3,371.1 918.1,373.4 925.0,376.2 931.8,380.1 938.6,383.9 945.5,387.0 952.3,389.9 959.1,391.8 966.0,394.0 972.8,395.8 979.6,398.5 986.5,401.2 993.3,404.6 1000.1,408.6 1007.0,411.8 1013.8,415.7 1020.6,419.6 1027.5,422.3 1034.3,424.7 1041.2,427.0 1048.0,429.2 1054.8,431.8 1061.7,434.2 1068.5,436.7 1075.3,439.0 1082.2,441.1 1089.0,443.0 1095.8,445.2 1102.7,446.7 1109.5,448.6 1116.3,449.8 1123.2,450.5 1130.0,450.9 1136.8,450.9 1143.7,449.9 1150.5,449.0 1157.3,449.1 1164.2,449.4 1171.0,449.9 1177.9,450.4 1184.7,450.7 1191.5,450.8 1198.4,449.1 1205.2,446.9 1212.0,445.3" stroke="#ffa64d" stroke-width="1.6"/>
<polyline points="15.9,186.3 22.7,184.6 29.6,182.8 36.4,179.6 43.2,178.0 50.1,176.9 56.9,175.9 63.7,177.1 70.6,180.8 77.4,184.8 84.2,186.7 91.1,187.6 97.9,189.4 104.8,190.2 111.6,188.2 118.4,187.3 125.3,186.8 132.1,183.3 138.9,180.7 145.8,177.0 152.6,170.2 159.4,169.4 166.3,169.6 173.1,169.7 179.9,169.7 186.8,171.0 193.6,175.7 200.4,178.5 207.3,182.9 214.1,182.2 221.0,183.2 227.8,186.1 234.6,192.2 241.5,196.0 248.3,200.0 255.1,202.2 262.0,208.5 268.8,213.9 275.6,219.3 282.5,223.0 289.3,224.4 296.1,225.2 303.0,226.9 309.8,228.6 316.6,230.6 323.5,231.3 330.3,231.0 337.1,231.3 344.0,229.1 350.8,225.5 357.6,221.7 364.5,218.4 371.3,216.1 378.2,213.9 385.0,210.4 391.8,207.7 398.7,204.5 405.5,203.1 412.3,201.8 419.2,201.1 426.0,203.1 432.8,205.7 439.7,206.5 446.5,211.9 453.3,216.0 460.2,219.9 467.0,220.6 473.8,218.9 480.7,217.8 487.5,212.1 494.3,204.9 501.2,196.6 508.0,188.9 514.9,180.9 521.7,172.5 528.5,168.3 535.4,162.4 542.2,158.8 549.0,164.8 555.9,172.4 562.7,174.8 569.5,176.8 576.4,180.7 583.2,186.7 590.0,194.7 596.9,203.8 603.7,211.1 610.5,216.2 617.4,219.0 624.2,223.8 631.0,229.0 637.9,231.0 644.7,231.8 651.6,231.8 658.4,228.9 665.2,226.8 672.1,226.2 678.9,228.5 685.7,232.5 692.6,234.6 699.4,236.1 706.2,236.9 713.1,241.9 719.9,251.6 726.7,257.8 733.6,266.2 740.4,271.6 747.2,277.6 754.1,280.5 760.9,281.8 767.8,286.1 774.6,291.4 781.4,298.1 788.3,309.7 795.1,319.0 801.9,328.7 808.8,339.7 815.6,348.8 822.4,358.6 829.3,372.6 836.1,386.7 842.9,399.9 849.8,409.6 856.6,416.9 863.4,424.4 870.3,428.0 877.1,430.2 883.9,432.9 890.8,435.3 897.6,438.1 904.4,444.8 911.3,445.6 918.1,444.1 925.0,444.1 931.8,447.1 938.6,449.9 945.5,451.2 952.3,452.1 959.1,450.8 966.0,450.4 972.8,449.4 979.6,451.0 986.5,452.4 993.3,455.8 1000.1,460.8 1007.0,463.7 1013.8,468.0 1020.6,472.6 1027.5,474.1 1034.3,475.1 1041.2,475.7 1048.0,476.5 1054.8,478.3 1061.7,479.6 1068.5,481.4 1075.3,482.9 1082.2,483.6 1089.0,484.3 1095.8,485.6 1102.7,485.5 1109.5,486.3 1116.3,485.7 1123.2,484.0 1130.0,481.8 1136.8,478.9 1143.7,473.7 1150.5,469.3 1157.3,467.6 1164.2,466.6 1171.0,466.2 1177.9,465.8 1184.7,465.0 1191.5,463.9 1198.4,458.6 1205.2,452.3 1212.0,447.9" stroke="#f55a5a" stroke-width="1.6"/>
</g>
<circle cx="1211.5" cy="591.3" r="14.4" fill="#fff" stroke="#9c27b0" stroke-width="2.3"/>
<path d="M1216.6,583.4 L1204.9,591.9 L1211.3,592.4 L1206.5,599.6 L1218.3,590.3 L1211.9,589.8 Z" fill="#9c27b0"/>
<rect x="15" y="633.4" width="1655" height="95.8" fill="#7e57c2" fill-opacity="0.1"/>
<line x1="15" y1="657.5" x2="1670" y2="657.5" stroke="#7e57c2" stroke-opacity="0.08" stroke-width="1"/>
<line x1="15" y1="705.5" x2="1670" y2="705.5" stroke="#7e57c2" stroke-opacity="0.08" stroke-width="1"/>
<line x1="15" y1="752.5" x2="1670" y2="752.5" stroke="#efefef" stroke-width="1"/>
<line x1="15" y1="633.4" x2="1670" y2="633.4" stroke="#787b86" stroke-width="1" stroke-dasharray="4.7,6.4" stroke-dashoffset="6.7"/>
<line x1="15" y1="681.3" x2="1670" y2="681.3" stroke="#a3a6af" stroke-width="1" stroke-dasharray="4.7,6.4" stroke-dashoffset="6.7"/>
<line x1="15" y1="729.2" x2="1670" y2="729.2" stroke="#787b86" stroke-width="1" stroke-dasharray="4.7,6.4" stroke-dashoffset="6.7"/>
<defs><clipPath id="osclip"><rect x="15" y="730.2" width="1655" height="40"/></clipPath><linearGradient id="osg" gradientUnits="userSpaceOnUse" x1="0" y1="729" x2="0" y2="747"><stop offset="0" stop-color="#f23645" stop-opacity="0"/><stop offset="1" stop-color="#f23645" stop-opacity="0.3"/></linearGradient></defs>
<polygon clip-path="url(#osclip)" points="15.9,729.2 15.9,651.7 22.7,658.4 29.6,656.4 36.4,647.5 43.2,660.4 50.1,662.1 56.9,663.2 63.7,681.7 70.6,699.6 77.4,703.8 84.2,689.7 91.1,683.0 97.9,690.3 104.8,683.0 111.6,665.1 118.4,671.9 125.3,674.1 132.1,655.5 138.9,660.7 145.8,652.4 152.6,637.1 159.4,673.8 166.3,678.8 173.1,678.6 179.9,678.0 186.8,686.2 193.6,704.3 200.4,695.2 207.3,704.1 214.1,677.8 221.0,685.6 227.8,694.8 234.6,708.5 241.5,699.3 248.3,701.3 255.1,693.7 262.0,710.8 268.8,708.3 275.6,710.8 282.5,703.0 289.3,691.5 296.1,688.8 303.0,694.1 309.8,694.4 316.6,697.2 323.5,689.8 330.3,683.0 337.1,687.1 344.0,671.0 350.8,662.1 357.6,659.1 364.5,660.8 371.3,666.0 378.2,665.3 385.0,655.6 391.8,660.0 398.7,655.2 405.5,669.9 412.3,668.3 419.2,673.6 426.0,694.7 432.8,699.4 439.7,687.0 446.5,714.0 453.3,707.9 460.2,708.5 467.0,687.1 473.8,673.0 480.7,675.4 487.5,651.2 494.3,643.4 501.2,636.8 508.0,636.3 514.9,632.5 521.7,628.3 528.5,655.0 535.4,646.5 542.2,657.7 549.0,701.0 555.9,707.9 562.7,687.8 569.5,687.4 576.4,695.4 583.2,703.4 590.0,711.6 596.9,716.8 603.7,712.3 610.5,704.5 617.4,695.0 624.2,703.7 631.0,706.3 637.9,692.7 644.7,688.1 651.6,684.7 658.4,671.2 665.2,674.2 672.1,680.4 678.9,693.8 685.7,701.2 692.6,693.3 699.4,691.0 706.2,688.2 713.1,706.6 719.9,723.3 726.7,709.6 733.6,717.9 740.4,706.7 747.2,710.3 754.1,697.5 760.9,691.3 767.8,702.6 774.6,707.5 781.4,713.8 788.3,728.5 795.1,722.1 801.9,725.6 808.8,730.9 815.6,726.2 822.4,730.4 829.3,741.8 836.1,744.6 842.9,745.4 849.8,731.9 856.6,722.3 863.4,725.2 870.3,706.6 877.1,701.0 883.9,703.8 890.8,704.1 897.6,706.0 904.4,721.4 911.3,693.0 918.1,682.9 925.0,688.9 931.8,699.8 938.6,700.2 945.5,693.7 952.3,692.8 959.1,681.4 966.0,685.5 972.8,682.2 979.6,694.1 986.5,694.3 993.3,704.0 1000.1,711.6 1007.0,701.5 1013.8,708.8 1020.6,711.8 1027.5,694.5 1034.3,692.3 1041.2,690.9 1048.0,691.5 1054.8,698.3 1061.7,696.2 1068.5,699.5 1075.3,697.7 1082.2,693.4 1089.0,692.8 1095.8,698.7 1102.7,686.0 1109.5,692.9 1116.3,681.4 1123.2,672.2 1130.0,666.9 1136.8,660.3 1143.7,644.5 1150.5,647.3 1157.3,668.9 1164.2,673.3 1171.0,677.4 1177.9,678.1 1184.7,673.3 1191.5,670.3 1198.4,641.9 1205.2,634.1 1212.0,647.2 1212.0,729.2" fill="url(#osg)"/>
<g clip-path="url(#rclip)" fill="none" stroke-linejoin="round">
<polyline points="15.9,637.2 22.7,638.8 29.6,640.2 36.4,641.0 43.2,642.8 50.1,644.6 56.9,646.6 63.7,649.8 70.6,654.4 77.4,659.2 84.2,663.1 91.1,666.4 97.9,670.3 104.8,673.6 111.6,674.6 118.4,675.6 125.3,676.8 132.1,677.4 138.9,677.4 145.8,676.7 152.6,674.9 159.4,674.3 166.3,672.8 173.1,671.0 179.9,670.2 186.8,670.4 193.6,671.4 200.4,672.3 207.3,675.0 214.1,675.5 221.0,676.3 227.8,679.1 234.6,682.5 241.5,685.9 248.3,690.5 255.1,691.9 262.0,694.2 268.8,696.3 275.6,698.6 282.5,699.8 289.3,698.9 296.1,698.5 303.0,697.7 309.8,698.9 316.6,699.8 323.5,699.4 330.3,697.6 337.1,696.7 344.0,694.5 350.8,692.3 357.6,688.6 364.5,685.2 371.3,682.0 378.2,679.3 385.0,676.7 391.8,674.7 398.7,671.9 405.5,670.1 412.3,668.1 419.2,666.9 426.0,667.8 432.8,668.6 439.7,669.8 446.5,673.5 453.3,677.0 460.2,680.4 467.0,681.9 473.8,682.4 480.7,683.9 487.5,683.2 494.3,682.4 501.2,680.0 508.0,677.7 514.9,674.8 521.7,670.1 528.5,666.9 535.4,664.0 542.2,660.0 549.0,659.5 555.9,659.4 562.7,659.5 569.5,660.5 576.4,661.9 583.2,665.7 590.0,670.5 596.9,676.3 603.7,681.7 610.5,686.8 617.4,691.6 624.2,695.1 631.0,699.3 637.9,701.8 644.7,700.9 651.6,699.3 658.4,698.1 665.2,697.1 672.1,696.1 678.9,695.4 685.7,694.6 692.6,693.0 699.4,691.4 706.2,690.3 713.1,691.1 719.9,692.5 726.7,692.8 733.6,694.6 740.4,695.9 747.2,697.7 754.1,699.6 760.9,700.8 767.8,702.4 774.6,703.4 781.4,704.3 788.3,706.8 795.1,709.0 801.9,711.7 808.8,713.4 815.6,713.6 822.4,715.1 829.3,716.8 836.1,719.5 842.9,722.0 849.8,724.5 856.6,726.7 863.4,728.3 870.3,728.2 877.1,727.3 883.9,725.6 890.8,724.3 897.6,722.9 904.4,722.2 911.3,719.8 918.1,716.4 925.0,712.6 931.8,709.4 938.6,706.2 945.5,703.5 952.3,701.4 959.1,698.3 966.0,696.8 972.8,695.4 979.6,694.7 986.5,694.0 993.3,693.9 1000.1,693.2 1007.0,693.8 1013.8,695.6 1020.6,697.3 1027.5,696.9 1034.3,696.3 1041.2,696.1 1048.0,696.0 1054.8,697.2 1061.7,698.0 1068.5,699.2 1075.3,699.5 1082.2,699.4 1089.0,698.6 1095.8,697.7 1102.7,696.6 1109.5,695.5 1116.3,693.3 1123.2,691.7 1130.0,689.9 1136.8,687.7 1143.7,684.3 1150.5,680.7 1157.3,678.8 1164.2,676.9 1171.0,675.4 1177.9,674.3 1184.7,672.9 1191.5,670.9 1198.4,667.8 1205.2,663.6 1212.0,661.1" stroke="#fdd835" stroke-width="1.4"/>
<polyline points="15.9,651.7 22.7,658.4 29.6,656.4 36.4,647.5 43.2,660.4 50.1,662.1 56.9,663.2 63.7,681.7 70.6,699.6 77.4,703.8 84.2,689.7 91.1,683.0 97.9,690.3 104.8,683.0 111.6,665.1 118.4,671.9 125.3,674.1 132.1,655.5 138.9,660.7 145.8,652.4 152.6,637.1 159.4,673.8 166.3,678.8 173.1,678.6 179.9,678.0 186.8,686.2 193.6,704.3 200.4,695.2 207.3,704.1 214.1,677.8 221.0,685.6 227.8,694.8 234.6,708.5 241.5,699.3 248.3,701.3 255.1,693.7 262.0,710.8 268.8,708.3 275.6,710.8 282.5,703.0 289.3,691.5 296.1,688.8 303.0,694.1 309.8,694.4 316.6,697.2 323.5,689.8 330.3,683.0 337.1,687.1 344.0,671.0 350.8,662.1 357.6,659.1 364.5,660.8 371.3,666.0 378.2,665.3 385.0,655.6 391.8,660.0 398.7,655.2 405.5,669.9 412.3,668.3 419.2,673.6 426.0,694.7 432.8,699.4 439.7,687.0 446.5,714.0 453.3,707.9 460.2,708.5 467.0,687.1 473.8,673.0 480.7,675.4 487.5,651.2 494.3,643.4 501.2,636.8 508.0,636.3 514.9,632.5 521.7,628.3 528.5,655.0 535.4,646.5 542.2,657.7 549.0,701.0 555.9,707.9 562.7,687.8 569.5,687.4 576.4,695.4 583.2,703.4 590.0,711.6 596.9,716.8 603.7,712.3 610.5,704.5 617.4,695.0 624.2,703.7 631.0,706.3 637.9,692.7 644.7,688.1 651.6,684.7 658.4,671.2 665.2,674.2 672.1,680.4 678.9,693.8 685.7,701.2 692.6,693.3 699.4,691.0 706.2,688.2 713.1,706.6 719.9,723.3 726.7,709.6 733.6,717.9 740.4,706.7 747.2,710.3 754.1,697.5 760.9,691.3 767.8,702.6 774.6,707.5 781.4,713.8 788.3,728.5 795.1,722.1 801.9,725.6 808.8,730.9 815.6,726.2 822.4,730.4 829.3,741.8 836.1,744.6 842.9,745.4 849.8,731.9 856.6,722.3 863.4,725.2 870.3,706.6 877.1,701.0 883.9,703.8 890.8,704.1 897.6,706.0 904.4,721.4 911.3,693.0 918.1,682.9 925.0,688.9 931.8,699.8 938.6,700.2 945.5,693.7 952.3,692.8 959.1,681.4 966.0,685.5 972.8,682.2 979.6,694.1 986.5,694.3 993.3,704.0 1000.1,711.6 1007.0,701.5 1013.8,708.8 1020.6,711.8 1027.5,694.5 1034.3,692.3 1041.2,690.9 1048.0,691.5 1054.8,698.3 1061.7,696.2 1068.5,699.5 1075.3,697.7 1082.2,693.4 1089.0,692.8 1095.8,698.7 1102.7,686.0 1109.5,692.9 1116.3,681.4 1123.2,672.2 1130.0,666.9 1136.8,660.3 1143.7,644.5 1150.5,647.3 1157.3,668.9 1164.2,673.3 1171.0,677.4 1177.9,678.1 1184.7,673.3 1191.5,670.3 1198.4,641.9 1205.2,634.1 1212.0,647.2" stroke="#7e57c2" stroke-width="1.4"/>
</g>
<text x="25.5" y="70" font-size="17.5" letter-spacing="0.6" fill="#131722">EMA 20/50/100/200</text>
<text x="199" y="70" font-size="18" fill="#ff0000">91,838.2</text>
<text x="280.5" y="70" font-size="18" fill="#ff8000">92,081.1</text>
<text x="360.5" y="70" font-size="18" fill="#00f0ff">96,017.2</text>
<text x="441" y="70" font-size="18" fill="#0000ff">99,559.4</text>
<text x="27" y="640" font-size="17.5" fill="#131722">RSI (14, close)</text>
<text x="153" y="640" font-size="18" fill="#7e57c2">64.54</text>
<text x="208" y="640" font-size="18" fill="#fdd835">58.61</text>
<rect x="1670" y="41" width="107" height="570" fill="#fff"/>
<text x="1685" y="93.3" font-size="18" fill="#131722" stroke="#131722" stroke-width="0.25">125,000.0</text>
<text x="1685" y="148.5" font-size="18" fill="#131722" stroke="#131722" stroke-width="0.25">120,000.0</text>
<text x="1685" y="202.8" font-size="18" fill="#131722" stroke="#131722" stroke-width="0.25">115,000.0</text>
<text x="1685" y="257.0" font-size="18" fill="#131722" stroke="#131722" stroke-width="0.25">110,000.0</text>
<text x="1685" y="311.2" font-size="18" fill="#131722" stroke="#131722" stroke-width="0.25">105,000.0</text>
<text x="1685" y="580.3" font-size="18" fill="#131722" stroke="#131722" stroke-width="0.25">80,000.0</text>
<path d="M1671,244 H1768 Q1770,244 1770,246 V269 Q1770,271 1768,271 H1671 Z" fill="#2962ff"/>
<text x="1685" y="263.3" font-size="18" fill="#fff" stroke="#fff" stroke-width="0.45">109,425.6</text>
<path d="M1671,316 H1758.6 Q1760.6,316 1760.6,318 V340.7 Q1760.6,342.7 1758.6,342.7 H1671 Z" fill="#0000ff"/>
<text x="1685" y="335.2" font-size="18" fill="#fff" stroke="#fff" stroke-width="0.45">99,559.4</text>
<path d="M1671,342.7 H1758.6 Q1760.6,342.7 1760.6,344.7 V364.9 Q1760.6,366.9 1758.6,366.9 H1671 Z" fill="#2962ff"/>
<text x="1685" y="360.6" font-size="18" fill="#fff" stroke="#fff" stroke-width="0.45">96,412.8</text>
<path d="M1671,366.9 H1758.6 Q1760.6,366.9 1760.6,368.9 V390.9 Q1760.6,392.9 1758.6,392.9 H1671 Z" fill="#00ffff"/>
<text x="1685" y="385.7" font-size="18" fill="#000" stroke="#000" stroke-width="0.45">96,017.2</text>
<path d="M1671,392.9 H1758.6 Q1760.6,392.9 1760.6,394.9 V438.8 Q1760.6,440.8 1758.6,440.8 H1671 Z" fill="#f23645"/>
<text x="1685" y="411.4" font-size="18" fill="#fff" stroke="#fff" stroke-width="0.45">95,711.1</text>
<path d="M1671,440.8 H1758.6 Q1760.6,440.8 1760.6,442.8 V462.8 Q1760.6,464.8 1758.6,464.8 H1671 Z" fill="#2962ff"/>
<text x="1685" y="458.6" font-size="18" fill="#fff" stroke="#fff" stroke-width="0.45">94,399.2</text>
<path d="M1671,464.8 H1758.6 Q1760.6,464.8 1760.6,466.8 V489.9 Q1760.6,491.9 1758.6,491.9 H1671 Z" fill="#ff8000"/>
<text x="1685" y="484.2" font-size="18" fill="#fff" stroke="#fff" stroke-width="0.45">92,081.1</text>
<path d="M1671,491.9 H1758.6 Q1760.6,491.9 1760.6,493.9 V514.6 Q1760.6,516.6 1758.6,516.6 H1671 Z" fill="#ff0000"/>
<text x="1685" y="510.1" font-size="18" fill="#fff" stroke="#fff" stroke-width="0.45">91,838.2</text>
<path d="M1671,516.6 H1758.6 Q1760.6,516.6 1760.6,518.6 V540 Q1760.6,542 1758.6,542 H1671 Z" fill="#2962ff"/>
<text x="1685" y="535.1" font-size="18" fill="#fff" stroke="#fff" stroke-width="0.45">89,718.3</text>
<path d="M1671,542 H1758.6 Q1760.6,542 1760.6,544 V565.5 Q1760.6,567.5 1758.6,567.5 H1671 Z" fill="#2962ff"/>
<text x="1685" y="560.5" font-size="18" fill="#fff" stroke="#fff" stroke-width="0.45">88,367.4</text>
<text x="1685" y="432.3" font-size="18" fill="#fcc8cc" stroke="#fcc8cc" stroke-width="0.45">34:28</text>
<path d="M1671,633.5 H1732.5 Q1735.5,633.5 1735.5,636.5 V659 H1671 Z" fill="#7e57c2"/>
<path d="M1671,659 H1735.5 V682.4 Q1735.5,685.4 1732.5,685.4 H1671 Z" fill="#fdd835"/>
<text x="1685" y="652" font-size="18" fill="#fff" stroke="#fff" stroke-width="0.45">64.54</text>
<text x="1685" y="678" font-size="18" fill="#131722" stroke="#131722" stroke-width="0.3">58.61</text>
<text x="1685" y="711.2" font-size="18" fill="#131722" stroke="#131722" stroke-width="0.25">40.00</text>
<text x="1685" y="759.1" font-size="18" fill="#131722" stroke="#131722" stroke-width="0.25">20.00</text>
<rect x="1671" y="41" width="106" height="48.5" fill="#fff"/>
<rect x="1676" y="47" width="96" height="37.5" rx="7" fill="#fff" stroke="#e6e6e6" stroke-width="1.2"/>
<text x="1690" y="71.6" font-size="17" fill="#131722">USDT</text>
<text x="70.5" y="787" font-size="18" fill="#131722" text-anchor="middle">Aug</text>
<text x="282.5" y="787" font-size="18" fill="#131722" text-anchor="middle">Sep</text>
<text x="487.5" y="787" font-size="18" fill="#131722" text-anchor="middle">Oct</text>
<text x="699.5" y="787" font-size="18" fill="#131722" text-anchor="middle">Nov</text>
<text x="904.5" y="787" font-size="18" fill="#131722" text-anchor="middle">Dec</text>
<text x="1116.5" y="787" font-size="18" fill="#131722" text-anchor="middle" font-weight="bold">2026</text>
<text x="1327.5" y="787" font-size="18" fill="#131722" text-anchor="middle">Feb</text>
<text x="1519.5" y="787" font-size="18" fill="#131722" text-anchor="middle">Mar</text>
<g fill="#121212"><path d="M18,834 H35.85 V856.4 H27.1 V842.6 H18 Z"/><circle cx="43.4" cy="838.3" r="4.4"/><path d="M52.2,834 H62.7 L53.9,856.4 H43.9 Z"/></g>
<text x="73.5" y="856.6" font-size="31.2" letter-spacing="-0.1" font-weight="bold" fill="#121212">TradingView</text>
<g fill="#fafafa" stroke="#cfcfcf" stroke-width="0.8"><text x="1650.5" y="873.5" font-size="23">@</text><text x="1679" y="874.7" font-size="24.5" letter-spacing="0.2">asiftahsin</text></g>
<g fill="#fbfbfb" stroke="#d2d2d2" stroke-width="0.9"><path d="M1632,851 L1637,856 L1632,861 L1627,856 Z"/><path d="M1632,869 L1637,874 L1632,879 L1627,874 Z"/><path d="M1623,860 L1628,865 L1623,870 L1618,865 Z"/><path d="M1641,860 L1646,865 L1641,870 L1636,865 Z"/><path d="M1632,861.5 L1635.5,865 L1632,868.5 L1628.5,865 Z"/></g>
</svg></body></html>
